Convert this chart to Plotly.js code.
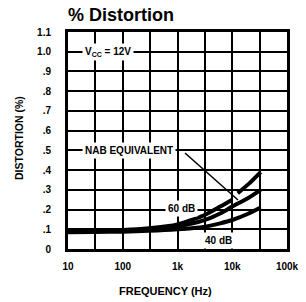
<!DOCTYPE html>
<html>
<head>
<meta charset="utf-8">
<script src="https://cdn.plot.ly/plotly-3.0.1.min.js"></script>
<style>html,body{margin:0;padding:0;background:#fff;}#chart{width:306px;height:302px;}</style>
</head>
<body>
<div id="chart"></div>
<script>
// Data
var freqTop = [10, 30, 100, 300, 1000, 3000, 6000, 10000, 11000, 12600, 20000, 33000];
var distTop = [0.09, 0.092, 0.096, 0.105, 0.125, 0.17, 0.215, 0.25, null, 0.283, 0.33, 0.39];
var freqMid = [10, 30, 100, 300, 1000, 3000, 6000, 10000, 20000, 33000];
var distMid = [0.09, 0.091, 0.094, 0.1, 0.115, 0.145, 0.18, 0.215, 0.26, 0.30];
var freqLow = [10, 30, 100, 300, 1000, 3000, 6000, 10000, 20000, 33000];
var distLow = [0.085, 0.086, 0.088, 0.092, 0.1, 0.112, 0.13, 0.147, 0.18, 0.21];
var xTickVals = [10, 100, 1000, 10000, 100000];
var xTickText = ['10', '100', '1k', '10k', '100k'];
var xMinorVals = [31.62, 316.2, 3162, 31623];
var yTickVals = [0, 0.1, 0.2, 0.3, 0.4, 0.5, 0.6, 0.7, 0.8, 0.9, 1.0, 1.1];
var yTickText = ['0', '.1', '.2', '.3', '.4', '.5', '.6', '.7', '.8', '.9', '1.0', '1.1'];

var FONT = 'Liberation Sans, Arial, sans-serif';
var lineStyle = {color: '#000', width: 4, shape: 'spline', smoothing: 0.6};

var traces = [
  {x: freqTop, y: distTop, mode: 'lines', line: lineStyle, connectgaps: false, name: '60 dB', hoverinfo: 'none'},
  {x: freqMid, y: distMid, mode: 'lines', line: lineStyle, name: 'NAB Equivalent', hoverinfo: 'none'},
  {x: freqLow, y: distLow, mode: 'lines', line: lineStyle, name: '40 dB', hoverinfo: 'none'}
];

var bold = {family: FONT, size: 10, color: '#000', weight: 'bold'};

// plot-area pixel helpers for the leader line (annotation, not data)
function px(p) { return (p - 68) / 219; }
function py(p) { return (249 - p) / 217; }

var layout = {
  width: 306, height: 302,
  margin: {l: 68, r: 19, t: 32, b: 53},
  paper_bgcolor: '#fff', plot_bgcolor: '#fff',
  showlegend: false,
  title: {text: '<b>% Distortion</b>', x: 68/306, xanchor: 'left', xref: 'container', y: 0.95, yanchor: 'middle',
          font: {family: FONT, size: 18, color: '#000'}},
  xaxis: {
    type: 'log', range: [1, 5],
    tickvals: xTickVals, ticktext: xTickText,
    tickfont: bold, ticks: '', ticklabelstandoff: 6,
    showgrid: true, gridcolor: '#000', gridwidth: 2,
    minor: {tickvals: xMinorVals, showgrid: true, gridcolor: '#000', gridwidth: 2, ticks: ''},
    showline: true, linecolor: '#000', linewidth: 3, mirror: true,
    zeroline: false, fixedrange: true
  },
  yaxis: {
    range: [0, 1.1],
    tickvals: yTickVals, ticktext: yTickText,
    tickfont: bold, ticks: '', ticklabelstandoff: 12,
    showgrid: true, gridcolor: '#000', gridwidth: 2,
    showline: true, linecolor: '#000', linewidth: 3, mirror: true,
    zeroline: false, fixedrange: true
  },
  shapes: [
    {type: 'line', xref: 'paper', yref: 'paper', x0: px(185), y0: py(153), x1: px(238), y1: py(200),
     line: {color: '#000', width: 1.5}, layer: 'above'}
  ],
  annotations: [
    {xref: 'paper', yref: 'paper', x: (19-68)/219, y: (249-138)/217, text: '<b>DISTORTION (%)</b>', textangle: -90,
     showarrow: false, font: {family: FONT, size: 10.5, color: '#000'}, xanchor: 'center', yanchor: 'middle'},
    {xref: 'paper', yref: 'paper', x: (165-68)/219, y: (249-291)/217, text: '<b>FREQUENCY (Hz)</b>',
     showarrow: false, font: {family: FONT, size: 11, color: '#000'}, xanchor: 'center', yanchor: 'middle'},
    {xref: 'x', yref: 'y', x: 1.73, y: 1.0, text: '<b>V<sub>CC</sub> = 12V</b>', showarrow: false,
     bgcolor: '#fff', borderpad: 2, font: {family: FONT, size: 10, color: '#000'}},
    {xref: 'x', yref: 'y', x: 2.105, y: 0.5, text: '<b>NAB EQUIVALENT</b>', showarrow: false,
     bgcolor: '#fff', borderpad: 2, font: {family: FONT, size: 10, color: '#000'}},
    {xref: 'x', yref: 'y', x: 3.08, y: 0.207, text: '<b>60 dB</b>', showarrow: false,
     bgcolor: '#fff', borderpad: 2, font: {family: FONT, size: 10, color: '#000'}},
    {xref: 'x', yref: 'y', x: 3.74, y: 0.045, text: '<b>40 dB</b>', showarrow: false,
     bgcolor: '#fff', borderpad: 2, font: {family: FONT, size: 10, color: '#000'}}
  ]
};

Plotly.newPlot('chart', traces, layout, {staticPlot: true, displayModeBar: false});
</script>
</body>
</html>
